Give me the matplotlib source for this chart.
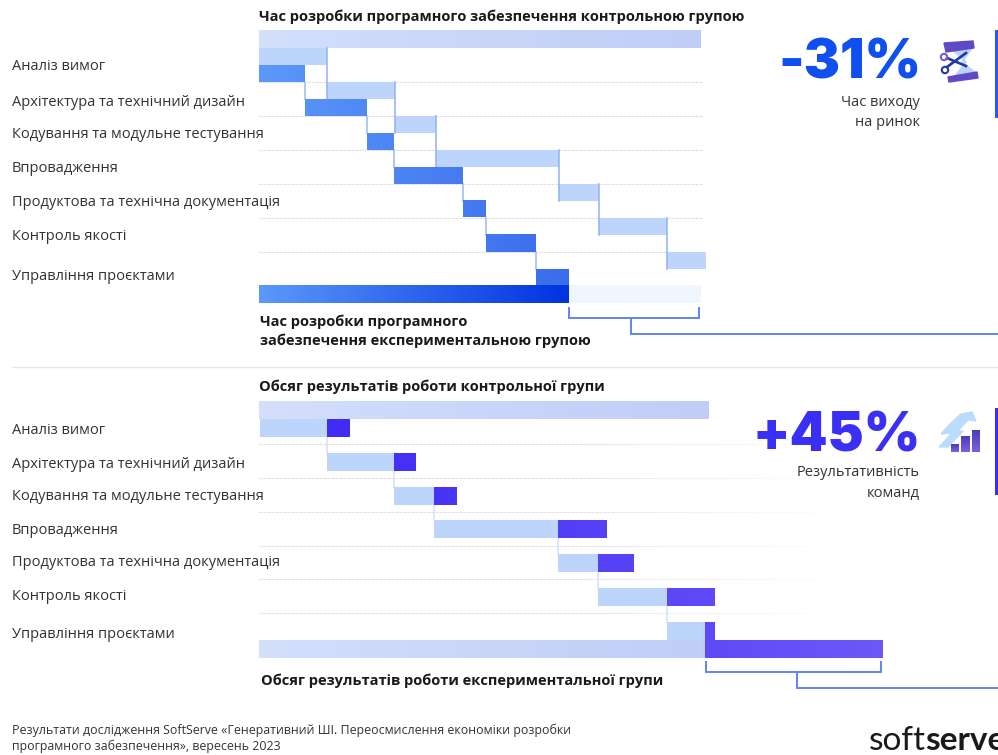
import numpy as np
import matplotlib
matplotlib.use('Agg')
import matplotlib.pyplot as plt
from matplotlib.collections import LineCollection
from matplotlib.colors import LinearSegmentedColormap
from matplotlib.patches import Polygon, Circle

W, H = 998, 755

# ── Data (timeline units on a shared axis) ──────────────────────────────────
stages = ['Аналіз вимог', 'Архітектура та технічний дизайн',
          'Кодування та модульне тестування', 'Впровадження',
          'Продуктова та технічна документація', 'Контроль якості',
          'Управління проєктами']

time_label_y = [67, 102, 135, 168, 202, 236, 276]
time_ctrl_edges = [259, 327, 395, 436, 559, 599, 667, 706]
time_exp_edges = [259, 305, 367, 394, 463, 486, 536, 569]
time_rows = [48, 82, 116, 150, 184, 217.5, 252, 285]
time_total_ctrl = 701
time_total_exp = 569

out_label_y = [431, 464, 497, 530, 563, 596, 635]
out_ctrl_edges = [260, 327, 394.5, 434.5, 558.5, 598.5, 667, 705]
out_exp_ends = [350, 416, 457, 607.5, 634, 715, 715]
out_rows = [419, 453, 487, 520, 554, 588, 622]
out_total_ctrl = 709
out_total_exp = 883

plt.rcParams['font.family'] = ['Open Sans', 'DejaVu Sans']

fig = plt.figure(figsize=(W / 100, H / 100), dpi=100)
ax = fig.add_axes([0, 0, 1, 1])


def gradient_bar(x0, x1, y0, y1, c0, c1, span=None, zorder=2):
    # horizontal gradient, optionally sampled from a wider span shared by bars
    cmap = LinearSegmentedColormap.from_list('g', [c0, c1])
    a, b = span if span else (x0, x1)
    vals = (np.linspace(x0, x1, 64) - a) / (b - a)
    ax.imshow(vals[None, :], extent=(x0, x1, y1, y0), cmap=cmap, vmin=0, vmax=1,
              aspect='auto', interpolation='bilinear', zorder=zorder)


def dotted_rule(y, x0, x1, fade=False):
    xs = np.arange(x0, x1, 4.0)
    segs = [[(x, y), (x + 3, y)] for x in xs]
    if fade:
        alpha = np.clip((x1 - xs) / (x1 - x0) * 2.2, 0, 1)
    else:
        alpha = np.ones_like(xs)
    cols = [(0.88, 0.88, 0.88, a) for a in alpha]
    ax.add_collection(LineCollection(segs, colors=cols, linewidths=0.8, zorder=1))


def bracket(x0, x1, y0, y1, stem_x, stem_y):
    ax.plot([x0, x0, x1, x1], [y0, y1, y1, y0], color='#5f85f2', lw=1.4,
            solid_joinstyle='miter', zorder=3)
    ax.plot([stem_x, stem_x, W], [y1, stem_y, stem_y], color='#5f85f2', lw=1.4,
            solid_joinstyle='miter', zorder=3)


# ── Upper chart: development time ───────────────────────────────────────────
HDR0, HDR1 = '#d3dffb', '#c0cdf7'
LIGHT = '#bdd4fb'

gradient_bar(259, time_total_ctrl, 30, 48, HDR0, HDR1)
for y in time_rows[1:-1]:
    dotted_rule(y, 259, 700)

for i in range(7):
    top = time_rows[i]
    mid = top + 17
    ax.fill_between([time_ctrl_edges[i], time_ctrl_edges[i + 1]], top, mid,
                    color=LIGHT, lw=0, zorder=2)
    gradient_bar(time_exp_edges[i], time_exp_edges[i + 1], mid, time_rows[i + 1],
                 '#5c98f9', '#3a6cec', span=(259, 569), zorder=3)
    # connectors dropping from the end of each bar to the next one
    if i < 6:
        ax.plot([time_ctrl_edges[i + 1]] * 2, [top, time_rows[i + 1] + 17],
                color='#8fb0f7', lw=1.1, zorder=2.5)
        ax.plot([time_exp_edges[i + 1]] * 2, [mid + 17, mid + 34],
                color='#a9c4f9', lw=1.3, zorder=2.5)

ax.fill_between([time_total_exp, time_total_ctrl], 285, 303, color='#eff6fe', lw=0, zorder=2)
gradient_bar(259, time_total_exp, 285, 303, '#5a98f9', '#0034e0', zorder=4)
bracket(569.5, 699.5, 308, 318, 631, 334)

# ── Lower chart: team output ────────────────────────────────────────────────
gradient_bar(259, out_total_ctrl, 401, 419, HDR0, HDR1)
for y in [444, 478, 512, 546, 579, 613]:
    dotted_rule(y, 259, 840, fade=True)

for i in range(7):
    top = out_rows[i]
    ax.fill_between([out_ctrl_edges[i], out_ctrl_edges[i + 1]], top, top + 17.5,
                    color=LIGHT, lw=0, zorder=2)
    gradient_bar(out_ctrl_edges[i + 1] if i < 6 else 705, out_exp_ends[i], top, top + 18,
                 '#3f2bf5', '#6c58f8', span=(327, 883), zorder=3)
    if i < 6:
        ax.plot([out_ctrl_edges[i + 1]] * 2, [top + 17, out_rows[i + 1]],
                color='#dbe2fd', lw=1.3, zorder=1.5)

gradient_bar(259, 705, 640, 658, HDR0, HDR1)
gradient_bar(705, out_total_exp, 640, 658, '#5f4bf6', '#6c58f8', zorder=4)
bracket(706.5, 881.5, 662, 672, 797, 688)

# ── Text ────────────────────────────────────────────────────────────────────
for label, y in zip(stages, time_label_y):
    ax.text(12, y, label, fontsize=10.5, color='#333333', va='center')
for label, y in zip(stages, out_label_y):
    ax.text(12, y, label, fontsize=10.5, color='#333333', va='center')

title_kw = dict(fontsize=10.5, fontweight='bold', color='#1a1a1a', va='center')
ax.text(259, 17, 'Час розробки програмного забезпечення контрольною групою', **title_kw)
ax.text(260, 322, 'Час розробки програмного', **title_kw)
ax.text(260, 341, 'забезпечення експериментальною групою', **title_kw)
ax.text(259, 387, 'Обсяг результатів роботи контрольної групи', **title_kw)
ax.text(261, 681, 'Обсяг результатів роботи експериментальної групи', **title_kw)

ax.text(921, 64, '-31%', fontsize=39, fontweight='black', color='#0f4ff0',
        family='Inter', ha='right', va='center')
ax.text(921, 437, '+45%', fontsize=39, fontweight='black', color='#3a30f5',
        family='Inter', ha='right', va='center')

side_kw = dict(fontsize=10.5, color='#333333', ha='right', va='center')
ax.text(920, 103, 'Час виходу', **side_kw)
ax.text(920, 122, 'на ринок', **side_kw)
ax.text(920, 473, 'Результативність', **side_kw)
ax.text(920, 493, 'команд', **side_kw)

ax.plot([12, W], [366.5, 366.5], color='#e6e6e6', lw=1, zorder=1)
ax.fill_between([995, W], 30, 118, color='#2a5be8', lw=0)
ax.fill_between([995, W], 408, 495, color='#3a2ff0', lw=0)

ax.text(12, 730, 'Результати дослідження SoftServe «Генеративний ШІ. Переосмислення економіки розробки',
        fontsize=8.95, color='#333333', va='center')
ax.text(12, 746, 'програмного забезпечення», вересень 2023',
        fontsize=8.95, color='#333333', va='center')

ax.text(869, 741, 'soft', fontsize=24, family='Lato', fontweight='normal', color='#1a1a1a', va='center')
ax.text(925, 741, 'serve', fontsize=24, family='Lato', fontweight='bold', color='#1a1a1a', va='center')

# ── Icons ───────────────────────────────────────────────────────────────────
# scissors over an hourglass
ax.add_patch(Polygon([(944, 43), (973, 41), (974, 48), (946, 52)], color='#5f49c6', zorder=5))
ax.add_patch(Polygon([(948, 77), (977, 72), (978, 78), (949, 82)], color='#5f49c6', zorder=5))
ax.add_patch(Polygon([(952, 50), (973, 47), (962, 62), (975, 72), (955, 76), (966, 62)],
                     color='#b9d3fa', zorder=4.5))
ax.plot([947, 966], [67, 53], color='#1f3aa8', lw=1.9, zorder=6)
ax.plot([947, 966], [58, 66], color='#1f3aa8', lw=1.9, zorder=6)
ax.add_patch(Circle((945, 70), 3.2, fc='none', ec='#1f3aa8', lw=1.5, zorder=6))
ax.add_patch(Circle((944, 57), 3.2, fc='none', ec='#7a5bd6', lw=1.5, zorder=6))

# rising arrow behind a small bar chart
ax.add_patch(Polygon([(950, 424), (961, 414), (972, 412), (976, 421), (968, 420),
                      (958, 431), (963, 431), (948, 447), (939, 447), (952, 433), (941, 434)],
                     color='#bcdcfb', zorder=4.5))
for x0, x1, top in [(951, 959, 444), (961, 970, 436), (972, 980, 430)]:
    cmap = LinearSegmentedColormap.from_list('bar', ['#4b3cb8', '#7b60e0'])
    ax.imshow(np.linspace(0, 1, 32)[:, None], extent=(x0, x1, 452, top), cmap=cmap,
              aspect='auto', zorder=5, origin='upper')

ax.set_xlim(0, W)
ax.set_ylim(H, 0)
ax.axis('off')

fig.savefig('out.png', dpi=100)
plt.close(fig)
